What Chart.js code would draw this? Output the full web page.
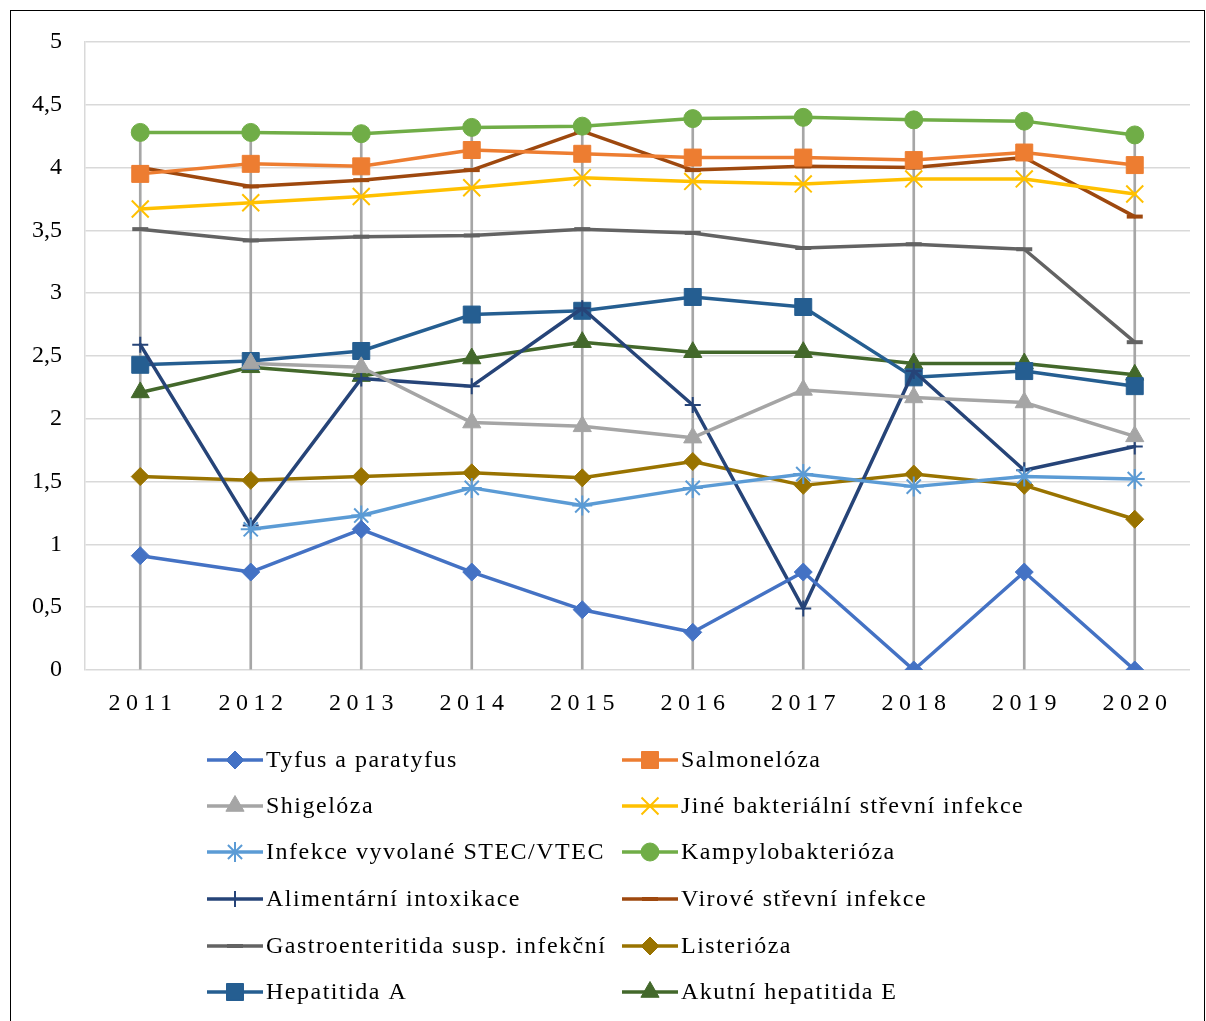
<!DOCTYPE html>
<html>
<head>
<meta charset="utf-8">
<script src="https://cdn.jsdelivr.net/npm/chart.js@4/dist/chart.umd.min.js"></script>
<style>
  html, body { margin: 0; padding: 0; background: #fff; }
  #wrap { position: relative; width: 1206px; height: 1021px; }
</style>
</head>
<body>
<div id="wrap"><canvas id="chart" width="1206" height="1021"></canvas></div>
<script>
const years = ['2011', '2012', '2013', '2014', '2015', '2016', '2017', '2018', '2019', '2020'];
const yTicks = [0, 0.5, 1, 1.5, 2, 2.5, 3, 3.5, 4, 4.5, 5];

const tyfus = [0.91, 0.78, 1.12, 0.78, 0.48, 0.30, 0.78, 0, 0.78, 0];
const salmoneloza = [3.95, 4.03, 4.01, 4.14, 4.11, 4.08, 4.08, 4.06, 4.12, 4.02];
const shigeloza = [null, 2.44, 2.41, 1.97, 1.94, 1.85, 2.23, 2.17, 2.13, 1.86];
const jineBakterialni = [3.67, 3.72, 3.77, 3.84, 3.92, 3.89, 3.87, 3.91, 3.91, 3.79];
const stecVtec = [null, 1.12, 1.23, 1.45, 1.31, 1.45, 1.56, 1.46, 1.54, 1.52];
const kampylobakterioza = [4.28, 4.28, 4.27, 4.32, 4.33, 4.39, 4.40, 4.38, 4.37, 4.26];
const alimentarni = [2.59, 1.15, 2.32, 2.26, 2.88, 2.11, 0.49, 2.38, 1.59, 1.78];
const viroveInfekce = [4.00, 3.85, 3.90, 3.98, 4.29, 3.98, 4.01, 4.00, 4.08, 3.61];
const gastroenteritida = [3.51, 3.42, 3.45, 3.46, 3.51, 3.48, 3.36, 3.39, 3.35, 2.61];
const listerioza = [1.54, 1.51, 1.54, 1.57, 1.53, 1.66, 1.47, 1.56, 1.47, 1.20];
const hepatitidaA = [2.43, 2.46, 2.54, 2.83, 2.86, 2.97, 2.89, 2.33, 2.38, 2.26];
const hepatitidaE = [2.21, 2.41, 2.34, 2.48, 2.61, 2.53, 2.53, 2.44, 2.44, 2.35];

const series = [
  { label: 'Tyfus a paratyfus', data: tyfus, color: '#4472C4', style: 'rectRot', r: 9, bw: 1 },
  { label: 'Salmonelóza', data: salmoneloza, color: '#ED7D31', style: 'rect', r: 12, bw: 1 },
  { label: 'Shigelóza', data: shigeloza, color: '#A5A5A5', style: 'triangle', r: 10.5, bw: 1 },
  { label: 'Jiné bakteriální střevní infekce', data: jineBakterialni, color: '#FFC000', style: 'crossRot', r: 12, bw: 2 },
  { label: 'Infekce vyvolané STEC/VTEC', data: stecVtec, color: '#5B9BD5', style: 'star', r: 10, bw: 2 },
  { label: 'Kampylobakterióza', data: kampylobakterioza, color: '#70AD47', style: 'circle', r: 9, bw: 1 },
  { label: 'Alimentární intoxikace', data: alimentarni, color: '#264478', style: 'cross', r: 8, bw: 2 },
  { label: 'Virové střevní infekce', data: viroveInfekce, color: '#9E480E', style: 'line', r: 8, bw: 4 },
  { label: 'Gastroenteritida susp. infekční', data: gastroenteritida, color: '#636363', style: 'line', r: 8, bw: 4 },
  { label: 'Listerióza', data: listerioza, color: '#997300', style: 'rectRot', r: 9, bw: 1 },
  { label: 'Hepatitida A', data: hepatitidaA, color: '#255E91', style: 'rect', r: 12, bw: 1 },
  { label: 'Akutní hepatitida E', data: hepatitidaE, color: '#43682B', style: 'triangle', r: 10.5, bw: 1 }
];

// high-low lines: from the axis up to the highest value of each year
const highLow = years.map((y, i) => Math.max(...series.map(s => s.data[i] ?? 0)));

const FONT = '"Liberation Serif", "Times New Roman", serif';
Chart.defaults.font.family = FONT;
Chart.defaults.color = '#000';

const datasets = series.map(s => ({
  type: 'line',
  label: s.label,
  data: s.data,
  borderColor: s.color,
  backgroundColor: s.color,
  borderWidth: 3.5,
  borderJoinStyle: 'round',
  borderCapStyle: 'round',
  pointStyle: s.style,
  pointRadius: s.r,
  pointBorderWidth: s.bw,
  pointBackgroundColor: s.color,
  pointBorderColor: s.color,
  tension: 0,
  order: 1
}));

datasets.push({
  type: 'bar',
  label: 'high-low',
  data: highLow,
  backgroundColor: '#a6a6a6',
  barThickness: 2,
  order: 50
});

const decorations = {
  id: 'decorations',
  afterDraw(chart) {
    const ctx = chart.ctx;
    const x = chart.scales.x;
    ctx.save();

    // year labels, spaced out like the original axis
    ctx.font = '24px ' + FONT;
    ctx.fillStyle = '#000';
    ctx.textAlign = 'center';
    ctx.textBaseline = 'middle';
    ctx.letterSpacing = '5.5px';
    years.forEach((y, i) => {
      ctx.fillText(y, x.getPixelForValue(i) + 2.75, 704);
    });

    // two-column legend
    const rowY = [760, 806, 852, 899, 946, 992];
    const colX = [207, 622];
    ctx.textAlign = 'left';
    ctx.letterSpacing = '1.5px';
    series.forEach((s, i) => {
      const cx = colX[i % 2];
      const cy = rowY[Math.floor(i / 2)];
      ctx.strokeStyle = s.color;
      ctx.fillStyle = s.color;
      ctx.lineWidth = 3.5;
      ctx.lineCap = 'butt';
      ctx.beginPath();
      ctx.moveTo(cx, cy);
      ctx.lineTo(cx + 56, cy);
      ctx.stroke();
      ctx.lineWidth = s.bw;
      Chart.helpers.drawPoint(ctx, { pointStyle: s.style, radius: s.r, borderWidth: s.bw, rotation: 0 }, cx + 28, cy);
      ctx.fillStyle = '#000';
      ctx.fillText(s.label, cx + 59, cy + 1);
    });
    ctx.letterSpacing = '0px';

    // outer frame
    ctx.strokeStyle = '#000';
    ctx.lineWidth = 1;
    ctx.strokeRect(10.5, 10.5, 1194, 1040);
    ctx.restore();
  }
};

new Chart(document.getElementById('chart').getContext('2d'), {
  data: { labels: years, datasets },
  options: {
    responsive: false,
    animation: false,
    layout: { padding: { top: 42, right: 16, left: 0, bottom: 0 } },
    plugins: {
      legend: { display: false },
      tooltip: { enabled: false }
    },
    scales: {
      x: {
        offset: true,
        grid: { display: false },
        border: { display: false },
        ticks: { display: false },
        afterFit(scale) { scale.height = 351; }
      },
      y: {
        min: 0,
        max: 5,
        afterBuildTicks(scale) { scale.ticks = yTicks.map(v => ({ value: v })); },
        grid: { color: '#d9d9d9', lineWidth: 1.5, drawTicks: false },
        border: { color: '#d9d9d9', width: 1.5 },
        ticks: {
          padding: 23,
          font: { size: 24 },
          color: '#000',
          callback: v => String(v).replace('.', ',')
        },
        afterFit(scale) { scale.width = 85; }
      }
    }
  },
  plugins: [decorations]
});
</script>
</body>
</html>
